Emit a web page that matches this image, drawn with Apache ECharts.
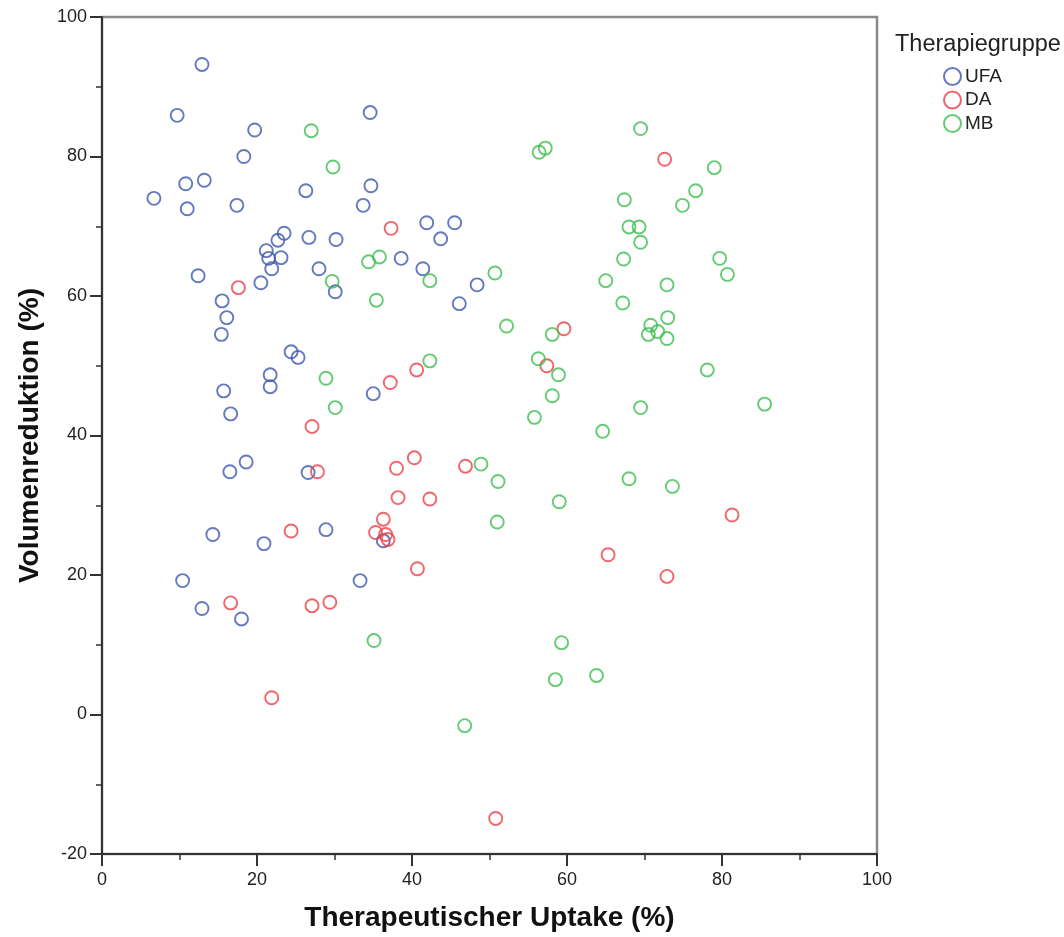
<!DOCTYPE html>
<html>
<head>
<meta charset="utf-8">
<script src="https://cdn.jsdelivr.net/npm/echarts@6/dist/echarts.min.js"></script>
<style>
  html, body { margin: 0; padding: 0; background: #fff; }
  #chart { width: 1064px; height: 937px; }
</style>
</head>
<body>
<div id="chart"></div>
<script>
// Therapiegruppe: UFA
const ufaX = [12.9, 9.7, 34.6, 19.7, 18.3, 6.7, 10.8, 13.2, 11.0, 17.4, 26.3, 34.7, 33.7, 41.9, 45.5, 43.7, 23.5, 22.7, 26.7, 30.2, 21.2, 21.5, 23.1, 21.9, 38.6, 28.0, 41.4, 20.5, 12.4, 30.1, 48.4, 46.1, 15.5, 16.1, 15.4, 24.4, 25.3, 21.7, 21.7, 15.7, 16.6, 35.0, 18.6, 16.5, 26.6, 14.3, 28.9, 20.9, 36.3, 10.4, 33.3, 12.9, 18.0];
const ufaY = [93.2, 85.9, 86.3, 83.8, 80.0, 74.0, 76.1, 76.6, 72.5, 73.0, 75.1, 75.8, 73.0, 70.5, 70.5, 68.2, 69.0, 68.0, 68.4, 68.1, 66.5, 65.4, 65.5, 63.9, 65.4, 63.9, 63.9, 61.9, 62.9, 60.6, 61.6, 58.9, 59.3, 56.9, 54.5, 52.0, 51.2, 48.7, 47.0, 46.4, 43.1, 46.0, 36.2, 34.8, 34.7, 25.8, 26.5, 24.5, 24.9, 19.2, 19.2, 15.2, 13.7];

// Therapiegruppe: DA
const daX = [17.6, 37.3, 72.6, 59.6, 57.4, 40.6, 37.2, 27.1, 40.3, 38.0, 46.9, 27.8, 38.2, 42.3, 81.3, 36.3, 35.3, 36.6, 36.9, 24.4, 65.3, 40.7, 72.9, 16.6, 27.1, 29.4, 21.9, 50.8];
const daY = [61.2, 69.7, 79.6, 55.3, 50.0, 49.4, 47.6, 41.3, 36.8, 35.3, 35.6, 34.8, 31.1, 30.9, 28.6, 28.0, 26.1, 25.8, 25.1, 26.3, 22.9, 20.9, 19.8, 16.0, 15.6, 16.1, 2.4, -14.9];

// Therapiegruppe: MB
const mbX = [27.0, 29.8, 56.4, 57.2, 69.5, 79.0, 76.6, 74.9, 67.4, 68.0, 69.3, 69.5, 67.3, 79.7, 80.7, 65.0, 72.9, 67.2, 34.4, 35.8, 29.7, 42.3, 50.7, 35.4, 52.2, 58.1, 56.3, 58.9, 58.1, 55.8, 64.6, 42.3, 28.9, 30.1, 73.0, 70.8, 71.7, 70.5, 72.9, 78.1, 69.5, 85.5, 48.9, 51.1, 59.0, 68.0, 73.6, 51.0, 35.1, 59.3, 58.5, 63.8, 46.8];
const mbY = [83.7, 78.5, 80.6, 81.2, 84.0, 78.4, 75.1, 73.0, 73.8, 69.9, 69.9, 67.7, 65.3, 65.4, 63.1, 62.2, 61.6, 59.0, 64.9, 65.6, 62.1, 62.2, 63.3, 59.4, 55.7, 54.5, 51.0, 48.7, 45.7, 42.6, 40.6, 50.7, 48.2, 44.0, 56.9, 55.8, 54.9, 54.5, 53.9, 49.4, 44.0, 44.5, 35.9, 33.4, 30.5, 33.8, 32.7, 27.6, 10.6, 10.3, 5.0, 5.6, -1.6];

const groupNames = ['UFA', 'DA', 'MB'];
const xTicks = { min: 0, max: 100, step: 20 };
const yTicks = { min: -20, max: 100, step: 20 };

const groups = [
  { name: groupNames[0], xs: ufaX, ys: ufaY, color: '#3F57AE' },
  { name: groupNames[1], xs: daX, ys: daY, color: '#EF3F47' },
  { name: groupNames[2], xs: mbX, ys: mbY, color: '#3FBE50' }
];

const FONT = '"Liberation Sans", Arial, sans-serif';

const axisCommon = {
  axisLine: { onZero: false, lineStyle: { color: '#333', width: 2 } },
  axisTick: { length: 12, lineStyle: { color: '#333', width: 2 } },
  minorTick: { show: true, splitNumber: 2, length: 6, lineStyle: { color: '#333', width: 1.5 } },
  splitLine: { show: false },
  axisLabel: { color: '#222', fontSize: 18, fontFamily: FONT },
  nameLocation: 'middle',
  nameTextStyle: { color: '#111', fontWeight: 'bold', fontSize: 28, fontFamily: FONT }
};

const chart = echarts.init(document.getElementById('chart'), null, { renderer: 'canvas' });
chart.setOption({
  backgroundColor: '#fff',
  animation: false,
  title: {
    text: 'Therapiegruppe',
    left: 890, top: 28,
    textStyle: { fontSize: 23.5, fontWeight: 'normal', color: '#222', fontFamily: FONT }
  },
  legend: {
    orient: 'vertical',
    left: 943, top: 67,
    padding: 0,
    itemGap: 4.5,
    itemWidth: 17, itemHeight: 17,
    icon: 'circle',
    textStyle: { fontSize: 19, color: '#222', fontFamily: FONT, padding: [0, 0, 0, -1] },
    data: groupNames
  },
  grid: {
    left: 102, right: 187, top: 17, bottom: 75,
    show: true, borderColor: '#8a8a8a', borderWidth: 2.5, backgroundColor: '#fff'
  },
  xAxis: Object.assign({}, axisCommon, {
    type: 'value',
    min: xTicks.min, max: xTicks.max, interval: xTicks.step,
    name: 'Therapeutischer Uptake (%)',
    nameGap: 50,
    axisLabel: Object.assign({}, axisCommon.axisLabel, { margin: 17 })
  }),
  yAxis: Object.assign({}, axisCommon, {
    type: 'value',
    min: yTicks.min, max: yTicks.max, interval: yTicks.step,
    name: 'Volumenreduktion (%)',
    nameGap: 58,
    axisLabel: Object.assign({}, axisCommon.axisLabel, { margin: 15 })
  }),
  series: groups.map(g => ({
    name: g.name,
    type: 'scatter',
    symbol: 'circle',
    symbolSize: 13,
    data: g.xs.map((x, i) => [x, g.ys[i]]),
    itemStyle: { color: 'rgba(255,255,255,0)', borderColor: g.color, borderWidth: 1.9 },
    emphasis: { disabled: true }
  }))
});
</script>
</body>
</html>
